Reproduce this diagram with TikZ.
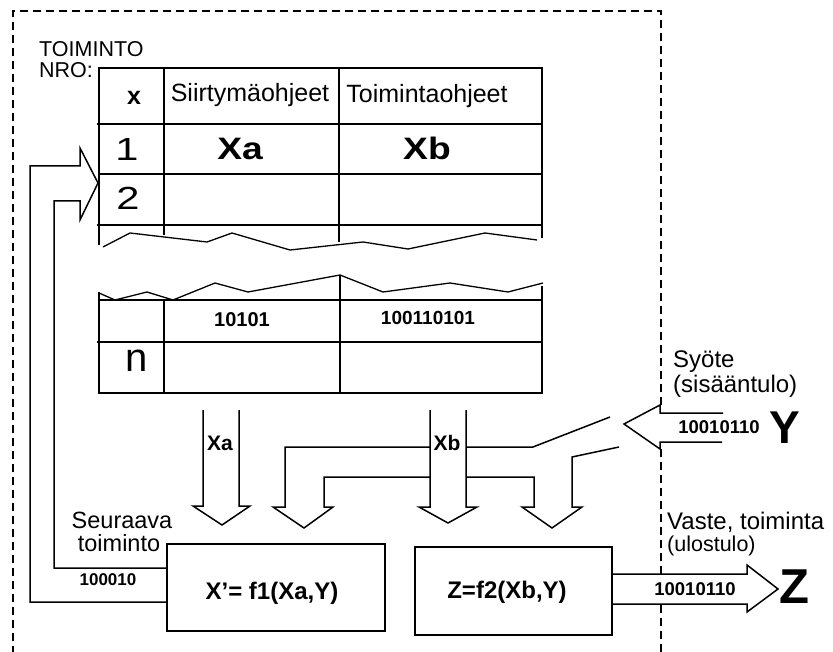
\documentclass[tikz,border=0pt]{standalone}
\usepackage{fontspec}
\setmainfont{Liberation Sans}
\newcommand\fsz[1]{\fontsize{#1}{#1}\selectfont}
\tikzset{
  txt/.style={inner sep=0pt, anchor=base},
  ltxt/.style={inner sep=0pt, anchor=base west},
  wide/.style={xscale=#1, transform shape},
  vline/.style={line width=2.6pt},
  hline/.style={line width=2.2pt},
  thinline/.style={line width=1.3pt},
  flow/.style={line width=1.5pt, line join=miter},
  frame/.style={line width=1.5pt, dash pattern=on 8pt off 5pt},
  fbox/.style={draw, line width=1.6pt, inner sep=0pt},
}
\begin{document}
\begin{tikzpicture}[x=1pt, y=-1pt]
\useasboundingbox (0,0) rectangle (833,652);

% dashed system boundary
\draw[frame] (661,405) -- (661,11) -- (13,11) -- (13,652);
\draw[frame] (661,449) -- (661,574);
\draw[frame] (661,605) -- (661,652);

% ---- instruction table, upper part ----
\draw[vline] (99,67) -- (99,245);
\draw[vline] (164,68) -- (164,235);
\draw[vline] (339,68) -- (339,242);
\draw[vline] (542,67) -- (542,238);
\draw[line width=2.4pt] (98,68) -- (543,68);
\draw[hline] (97,124) -- (542,124);
\draw[thinline] (99,174) -- (542,174);
\draw[hline] (97,225) -- (542,225);
\draw[thinline] (103,247) -- (130,233) -- (207,242) -- (232,233) -- (290,250)
  -- (363,242) -- (408,249) -- (485,233) -- (537,240);

% ---- instruction table, lower part ----
\draw[thinline] (99,293) -- (115,300) -- (147,292) -- (173,300) -- (215,283)
  -- (248,292) -- (340,275) -- (383,292) -- (450,283) -- (508,292) -- (543,283);
\draw[vline] (99,292) -- (99,394);
\draw[vline] (164,300) -- (164,393);
\draw[vline] (340,275) -- (340,393);
\draw[vline] (542,286) -- (542,394);
\draw[thinline] (99,300) -- (542,300);
\draw[line width=1.8pt] (97,342) -- (542,342);
\draw[line width=2.8pt] (98,393) -- (543,393);

% table texts
\node[ltxt] (toim) at (39,57) {\fsz{21.5}TOIMINTO};
\node[ltxt] (nro) at (39,78) {\fsz{21.5}NRO:};
\node[txt] (hx) at (134,105) {\fsz{25}\bfseries x};
\node[txt] (hsiirt) at (250,102) {\fsz{25}Siirtymäohjeet};
\node[txt] (htoim) at (427,103) {\fsz{25}Toimintaohjeet};
\node[txt, wide=1.3] (r1) at (127,161) {\fsz{32}1};
\node[txt, wide=1.3] (r2) at (128,210) {\fsz{32}2};
\node[txt, wide=1.2] (xa) at (240,160) {\fsz{31}\bfseries Xa};
\node[txt, wide=1.2] (xb) at (427,160) {\fsz{31}\bfseries Xb};
\node[txt] (bits1) at (242,327) {\fsz{20}\bfseries 10101};
\node[txt] (bits2) at (428,325) {\fsz{19}\bfseries 100110101};
\node[txt] (rn) at (137,372) {\fsz{40}n};

% ---- function blocks ----
\node[fbox, minimum width=218pt, minimum height=87pt] (f1) at (276,587.5) {};
\node[fbox, minimum width=197pt, minimum height=88pt] (f2) at (513.5,591) {};
\node[txt] (f1t) at (272,599) {\fsz{24}\bfseries X’= f1(Xa,Y)};
\node[txt] (f2t) at (507,598) {\fsz{24}\bfseries Z=f2(Xb,Y)};

% ---- block arrows ----
% Xa into f1
\draw[flow] (203,410) -- (203,506) -- (193,506) -- (222,525) -- (250,506) -- (239,506) -- (239,410);
\node[txt] (xalab) at (220,450) {\fsz{21}\bfseries Xa};
% Xb into f2
\draw[flow] (430,410) -- (430,507) -- (419,507) -- (448,523) -- (477,507) -- (466,507) -- (466,410);
\node[txt] (xblab) at (447,450) {\fsz{21}\bfseries Xb};
% input Y split towards f1 and f2
\draw[flow] (430,447) -- (285,447) -- (285,507) -- (273,507) -- (304,528) -- (333,507)
  -- (324,507) -- (324,477) -- (430,477);
\draw[flow] (466,447) -- (533,447) -- (610,417);
\draw[flow] (466,477) -- (534,477) -- (534,507) -- (522,507) -- (552,528) -- (582,507)
  -- (572,507) -- (572,457) -- (619,447);
% input arrow Y
\draw[flow] (723,413) -- (660,413) -- (660,405) -- (624,424) -- (660,449) -- (660,442) -- (722,442);
\node[txt] (ybits) at (719,433) {\fsz{18.5}\bfseries 10010110};
\node[txt] (ysym) at (785,443) {\fsz{46}\bfseries Y};
\node[ltxt] (syote) at (673,368) {\fsz{24}Syöte};
\node[ltxt] (sisaan) at (673,392) {\fsz{24}(sisääntulo)};
% output arrow Z
\draw[flow] (f2.east |- 0,574) -- (747,574) -- (747,565) -- (778,589) -- (747,612) -- (747,604) -- (f2.east |- 0,604);
\node[txt] (zbits) at (695,595) {\fsz{18.5}\bfseries 10010110};
\node[txt] (zsym) at (794,603) {\fsz{49}\bfseries Z};
\node[ltxt] (vaste) at (667,529) {\fsz{24}Vaste, toiminta};
\node[ltxt] (ulos) at (667,551) {\fsz{21.5}(ulostulo)};

% feedback: next state back to the table
\draw[flow] (f1.west |- 0,602) -- (30,602) -- (30,166) -- (80,166) -- (80,148) -- (98,183)
  -- (80,220) -- (80,201) -- (54,201) -- (54,568) -- (f1.west |- 0,568);
\node[txt] (seur) at (122,528) {\fsz{23.5}Seuraava};
\node[txt] (seur2) at (119,551) {\fsz{23.5}toiminto};
\node[txt] (fbits) at (108,585) {\fsz{17}\bfseries 100010};
\end{tikzpicture}
\end{document}
